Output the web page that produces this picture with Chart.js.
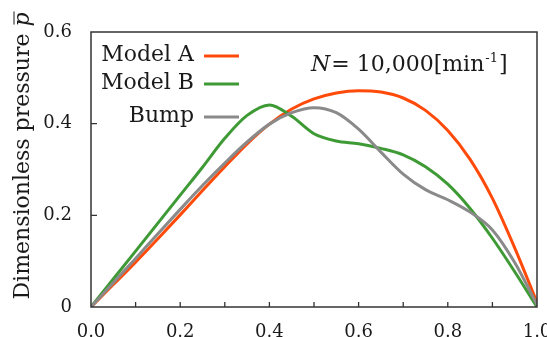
<!DOCTYPE html>
<html>
<head>
<meta charset="utf-8">
<script src="https://cdn.jsdelivr.net/npm/chart.js@4.4.1/dist/chart.umd.min.js"></script>
<style>
  html, body { margin: 0; padding: 0; background: #ffffff; }
  #wrap { width: 547px; height: 337px; }
</style>
</head>
<body>
<div id="wrap"><canvas id="c" width="547" height="337"></canvas></div>
<script>
// ---- data ----
const xPositions = [0, 0.05, 0.1, 0.15, 0.2, 0.25, 0.3, 0.35, 0.4, 0.45, 0.5, 0.55, 0.6, 0.65, 0.7, 0.75, 0.8, 0.85, 0.9, 0.95, 1.0];
const modelA = [0, 0.049, 0.098, 0.149, 0.201, 0.254, 0.306, 0.356, 0.399, 0.432, 0.454, 0.467, 0.472, 0.469, 0.456, 0.429, 0.385, 0.322, 0.237, 0.129, 0.010];
const modelB = [0, 0.061, 0.122, 0.183, 0.244, 0.305, 0.368, 0.418, 0.441, 0.416, 0.378, 0.362, 0.356, 0.346, 0.332, 0.306, 0.268, 0.215, 0.150, 0.077, 0.0];
const bump   = [0, 0.053, 0.106, 0.160, 0.213, 0.265, 0.314, 0.360, 0.399, 0.424, 0.435, 0.424, 0.388, 0.338, 0.290, 0.256, 0.234, 0.207, 0.168, 0.097, 0.005];
const seriesNames = ['Model A', 'Model B', 'Bump'];
const seriesColors = ['#FF4A0A', '#3E9A34', '#8A8A8A'];
const xTickValues = [0, 0.2, 0.4, 0.6, 0.8, 1.0];
const yTickValues = [0, 0.2, 0.4, 0.6];
const yTitle = 'Dimensionless pressure ';
const annotationText = { italic: 'N', main: '= 10,000[min', sup: '-1', end: ']' };

const FONT = '"DejaVu Serif", "Liberation Serif", serif';

function pts(arr) { return arr.map((v, i) => ({ x: xPositions[i], y: v })); }

const decorPlugin = {
  id: 'decor',
  afterDatasetsDraw(chart) {
    const ctx = chart.ctx;
    const a = chart.chartArea;
    const xs = chart.scales.x, ys = chart.scales.y;
    ctx.save();
    // frame
    ctx.strokeStyle = '#333333';
    ctx.lineWidth = 1.5;
    ctx.strokeRect(a.left, a.top, a.right - a.left, a.bottom - a.top);
    // inward ticks
    ctx.lineWidth = 1.3;
    ctx.beginPath();
    for (let v = 1; v < 10; v++) {
      const px = xs.getPixelForValue(v / 10);
      ctx.moveTo(px, a.bottom);
      ctx.lineTo(px, a.bottom - 5);
    }
    yTickValues.forEach(v => {
      if (v > 0 && v < 0.6) {
        const py = ys.getPixelForValue(v);
        ctx.moveTo(a.left, py);
        ctx.lineTo(a.left + 6, py);
      }
    });
    ctx.stroke();

    // legend (inside plot)
    const legendY = [55, 83, 116];
    ctx.font = '22px ' + FONT;
    ctx.fillStyle = '#1a1a1a';
    ctx.textAlign = 'right';
    ctx.textBaseline = 'middle';
    seriesNames.forEach((n, i) => {
      ctx.fillText(n, 194, legendY[i]);
      ctx.strokeStyle = seriesColors[i];
      ctx.lineWidth = 3;
      ctx.beginPath();
      ctx.moveTo(204, legendY[i] + 1);
      ctx.lineTo(239, legendY[i] + 1);
      ctx.stroke();
    });

    // annotation N = 10,000[min-1]
    ctx.textAlign = 'left';
    ctx.textBaseline = 'alphabetic';
    let x = 311; const base = 71;
    ctx.font = 'italic 22px ' + FONT;
    ctx.fillText(annotationText.italic, x, base);
    x += ctx.measureText(annotationText.italic).width + 1;
    ctx.font = '22px ' + FONT;
    ctx.fillText(annotationText.main, x, base);
    x += ctx.measureText(annotationText.main).width;
    ctx.font = '13px ' + FONT;
    ctx.fillText(annotationText.sup, x + 1, base - 9);
    x += ctx.measureText(annotationText.sup).width + 2;
    ctx.font = '22px ' + FONT;
    ctx.fillText(annotationText.end, x, base);

    // y title (rotated)
    ctx.save();
    ctx.translate(23, 156);
    ctx.rotate(-Math.PI / 2);
    ctx.font = '22px ' + FONT;
    const wMain = ctx.measureText(yTitle).width;
    ctx.font = 'italic 22px ' + FONT;
    const wP = ctx.measureText('p').width;
    let sx = -(wMain + wP) / 2;
    ctx.textBaseline = 'middle';
    ctx.font = '22px ' + FONT;
    ctx.fillStyle = '#1a1a1a';
    ctx.fillText(yTitle, sx, 0);
    ctx.font = 'italic 22px ' + FONT;
    ctx.fillText('p', sx + wMain, 0);
    ctx.strokeStyle = '#1a1a1a';
    ctx.lineWidth = 1;
    ctx.beginPath();
    ctx.moveTo(sx + wMain + 2, -9);
    ctx.lineTo(sx + wMain + wP + 1, -9);
    ctx.stroke();
    ctx.restore();

    ctx.restore();
  }
};

new Chart(document.getElementById('c'), {
  type: 'line',
  data: {
    datasets: [
      { label: seriesNames[0], data: pts(modelA), borderColor: seriesColors[0], borderWidth: 3, pointRadius: 0, cubicInterpolationMode: 'monotone', fill: false },
      { label: seriesNames[1], data: pts(modelB), borderColor: seriesColors[1], borderWidth: 3, pointRadius: 0, cubicInterpolationMode: 'monotone', fill: false },
      { label: seriesNames[2], data: pts(bump),   borderColor: seriesColors[2], borderWidth: 3, pointRadius: 0, cubicInterpolationMode: 'monotone', fill: false }
    ].reverse()
  },
  options: {
    responsive: false,
    animation: false,
    devicePixelRatio: 1,
    layout: { padding: { top: 32, right: 10, left: 0, bottom: 0 } },
    plugins: { legend: { display: false }, tooltip: { enabled: false } },
    scales: {
      x: {
        type: 'linear', min: 0, max: 1,
        grid: { display: false },
        border: { display: false },
        afterBuildTicks: s => { s.ticks = xTickValues.map(v => ({ value: v })); },
        ticks: {
          autoSkip: false, maxRotation: 0, padding: 7,
          color: '#1a1a1a',
          font: { family: FONT, size: 18 },
          callback: v => Number(v).toFixed(1)
        },
        afterFit: s => { s.height = 30; s.paddingLeft = 0; s.paddingRight = 0; }
      },
      y: {
        type: 'linear', min: 0, max: 0.6,
        grid: { display: false },
        border: { display: false },
        afterBuildTicks: s => { s.ticks = yTickValues.map(v => ({ value: v })); },
        ticks: {
          padding: 11,
          color: '#1a1a1a',
          font: { family: FONT, size: 18 },
          callback: v => (v === 0 ? '0' : Number(v).toFixed(1))
        },
        afterFit: s => { s.width = 91; s.paddingTop = 0; s.paddingBottom = 0; }
      }
    }
  },
  plugins: [decorPlugin]
});
</script>
</body>
</html>
